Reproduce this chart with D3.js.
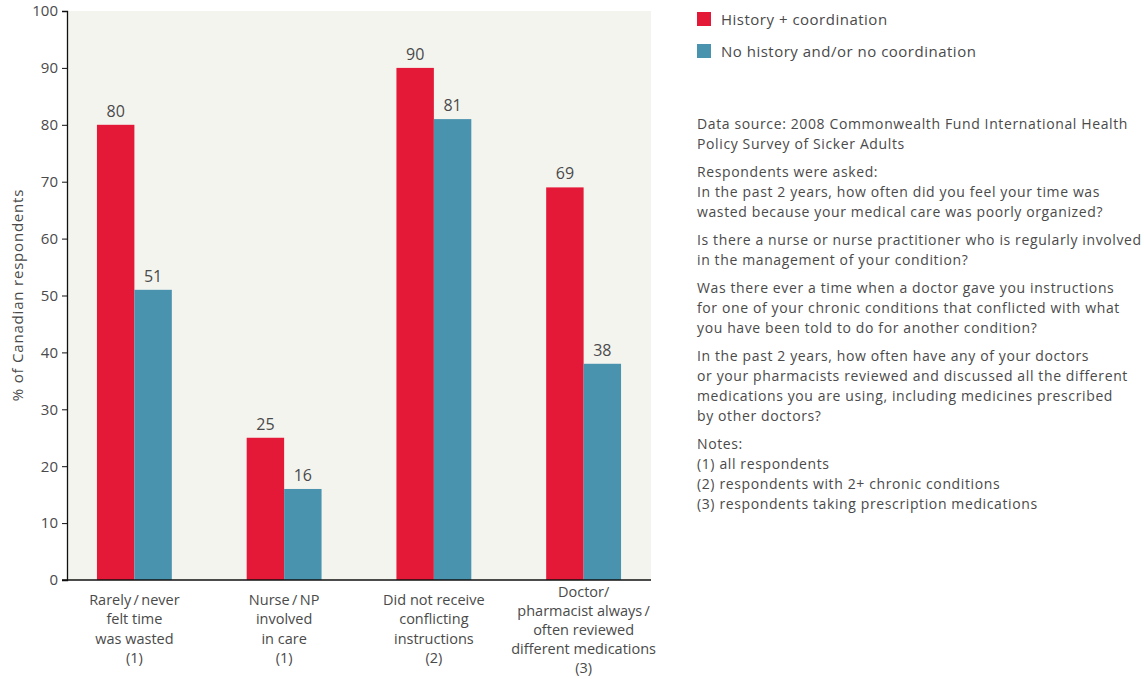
<!DOCTYPE html>
<html>
<head>
<meta charset="utf-8">
<script src="https://cdn.jsdelivr.net/npm/d3@7"></script>
<style>
  html, body { margin: 0; padding: 0; background: #ffffff; }
  svg { display: block; font-family: "Open Sans", "DejaVu Sans", sans-serif; }
</style>
</head>
<body>
<svg id="chart" width="1144" height="679"></svg>
<script>
// Share of Canadian respondents, by coordination status
const categories = [
  ["Rarely\u2009/\u2009never", "felt time", "was wasted", "(1)"],
  ["Nurse\u2009/\u2009NP", "involved", "in care", "(1)"],
  ["Did not receive", "conflicting", "instructions", "(2)"],
  ["Doctor/", "pharmacist always\u2009/", "often reviewed", "different medications", "(3)"]
];
const seriesNames = ["History + coordination", "No history and/or no coordination"];
const historyValues = [80, 25, 90, 69];
const noHistoryValues = [51, 16, 81, 38];
const yTicks = [0, 10, 20, 30, 40, 50, 60, 70, 80, 90, 100];
const colors = ["#e31937", "#4a93ae"];

const notes = [
  ["Data source: 2008 Commonwealth Fund International Health", "Policy Survey of Sicker Adults"],
  ["Respondents were asked:", "In the past 2 years, how often did you feel your time was", "wasted because your medical care was poorly organized?"],
  ["Is there a nurse or nurse practitioner who is regularly involved", "in the management of your condition?"],
  ["Was there ever a time when a doctor gave you instructions", "for one of your chronic conditions that conflicted with what", "you have been told to do for another condition?"],
  ["In the past 2 years, how often have any of your doctors", "or your pharmacists reviewed and discussed all the different", "medications you are using, including medicines prescribed", "by other doctors?"],
  ["Notes:", "(1) all respondents", "(2) respondents with 2+ chronic conditions", "(3) respondents taking prescription medications"]
];

const svg = d3.select("#chart");
const plot = { left: 67, right: 651, top: 11, bottom: 580 };
const textColor = "#4a4a4a";

const x0 = d3.scaleBand()
  .domain(d3.range(categories.length))
  .range([plot.left, plot.right])
  .paddingInner(0.5)
  .paddingOuter(0.2);
const x1 = d3.scaleBand()
  .domain([0, 1])
  .range([0, x0.bandwidth()]);
const y = d3.scaleLinear().domain([0, 100]).range([plot.bottom, plot.top]);

// plot background
svg.append("rect")
  .attr("x", plot.left).attr("y", plot.top)
  .attr("width", plot.right - plot.left).attr("height", plot.bottom - plot.top)
  .attr("fill", "#f4f4ef");

// bars
const groups = svg.append("g").selectAll("g")
  .data(categories.map((c, i) => ({ i, vals: [historyValues[i], noHistoryValues[i]] })))
  .join("g")
  .attr("transform", d => `translate(${x0(d.i)},0)`);

groups.selectAll("rect")
  .data(d => d.vals.map((v, s) => ({ v, s })))
  .join("rect")
  .attr("x", d => x1(d.s))
  .attr("y", d => y(d.v))
  .attr("width", x1.bandwidth())
  .attr("height", d => y(0) - y(d.v))
  .attr("fill", d => colors[d.s]);

groups.selectAll("text.val")
  .data(d => d.vals.map((v, s) => ({ v, s })))
  .join("text")
  .attr("class", "val")
  .attr("x", d => x1(d.s) + x1.bandwidth() / 2)
  .attr("y", d => y(d.v) - 8)
  .attr("text-anchor", "middle")
  .attr("font-size", 16)
  .attr("fill", textColor)
  .text(d => d.v);

// y axis
const yAxis = svg.append("g")
  .attr("transform", `translate(${plot.left},0)`)
  .call(d3.axisLeft(y).tickValues(yTicks).tickSize(5).tickPadding(4));
yAxis.select(".domain").attr("stroke", "#111").attr("stroke-width", 1.3);
yAxis.selectAll(".tick line").attr("stroke", "#111");
yAxis.selectAll(".tick text")
  .attr("font-size", 15)
  .attr("fill", textColor)
  .attr("font-family", "\"Open Sans\", sans-serif");

// baseline
svg.append("line")
  .attr("x1", plot.left - 5).attr("x2", plot.right)
  .attr("y1", plot.bottom).attr("y2", plot.bottom)
  .attr("stroke", "#111").attr("stroke-width", 1.3);

// y axis title
svg.append("text")
  .attr("transform", "translate(23,295) rotate(-90)")
  .attr("text-anchor", "middle")
  .attr("font-size", 15)
  .attr("fill", textColor)
  .attr("letter-spacing", 0.8)
  .text("% of Canadian respondents");

// category labels
svg.append("g").selectAll("text")
  .data(categories.map((lines, i) => ({ lines, i })))
  .join("text")
  .attr("text-anchor", "middle")
  .attr("font-size", 14.5)
  .attr("fill", textColor)
  .each(function (d) {
    const cx = x0(d.i) + x0.bandwidth() / 2;
    const t = d3.select(this);
    const start = d.lines.length > 4 ? 597 : 605;
    const step = d.lines.length > 4 ? 19.1 : 19.3;
    d.lines.forEach((ln, k) => {
      t.append("tspan").attr("x", cx).attr("y", start + k * step).text(ln);
    });
  });

// legend
const legend = svg.append("g").attr("transform", "translate(697,12)");
seriesNames.forEach((name, s) => {
  legend.append("rect")
    .attr("x", 0).attr("y", s * 32)
    .attr("width", 14).attr("height", 14)
    .attr("fill", colors[s]);
  legend.append("text")
    .attr("x", 24).attr("y", s * 32 + 12.5)
    .attr("font-size", 15)
    .attr("fill", textColor)
    .attr("letter-spacing", 0.5)
    .text(name);
});

// source, questions and notes
const noteG = svg.append("g").attr("font-size", 14).attr("fill", textColor).attr("letter-spacing", 0.62);
let yy = 129;
notes.forEach(par => {
  par.forEach(line => {
    noteG.append("text").attr("x", 697).attr("y", yy).text(line);
    yy += 20;
  });
  yy += 8;
});
</script>
</body>
</html>
